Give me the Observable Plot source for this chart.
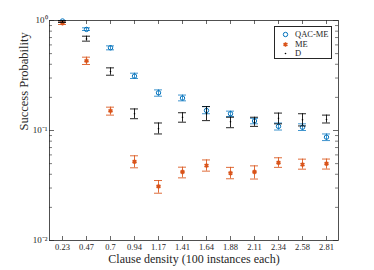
<!DOCTYPE html>
<html><head><meta charset="utf-8">
<script src="https://cdn.jsdelivr.net/npm/d3@7"></script>
<script src="https://cdn.jsdelivr.net/npm/@observablehq/plot@0.6"></script>
<style>
body{margin:0;background:#fff;}
#wrap{position:relative;width:374px;height:270px;font-family:"Liberation Serif",serif;color:#262626;}
#legend{position:absolute;left:274px;top:26px;width:58px;height:33px;border:1px solid #262626;background:#fff;font-size:8.5px;box-sizing:border-box;}
#legend .row{position:absolute;left:0;height:10px;line-height:10px;}
#legend svg{position:absolute;left:5px;top:0;}
#legend span{position:absolute;left:20px;white-space:nowrap;}
</style></head>
<body><div id="wrap"></div>
<script>
const density = ["0.23","0.47","0.7","0.94","1.17","1.41","1.64","1.88","2.11","2.34","2.58","2.81"];
const qacme   = [0.99,0.83,0.565,0.312,0.22,0.197,0.152,0.142,0.122,0.109,0.107,0.087];
const qacmeLo = [0.97,0.811,0.541,0.297,0.205,0.186,0.142,0.134,0.115,0.101,0.100,0.081];
const qacmeHi = [1.0,0.858,0.588,0.332,0.234,0.210,0.165,0.150,0.129,0.117,0.115,0.093];
const me      = [0.945,0.43,0.151,0.052,0.031,0.042,0.048,0.041,0.042,0.051,0.049,0.050];
const meLo    = [0.92,0.398,0.138,0.0458,0.0269,0.0371,0.0427,0.0364,0.0362,0.0462,0.0445,0.0446];
const meHi    = [0.97,0.464,0.163,0.0589,0.0351,0.0464,0.054,0.0462,0.0477,0.0565,0.0549,0.055];
const dval    = [0.98,0.68,0.344,0.142,0.104,0.132,0.142,0.12,0.119,0.129,0.125,0.126];
const dLo     = [0.96,0.649,0.318,0.128,0.093,0.119,0.123,0.106,0.109,0.115,0.110,0.117];
const dHi     = [1.0,0.72,0.371,0.157,0.117,0.145,0.165,0.132,0.132,0.144,0.142,0.138];
const seriesNames = ["QAC-ME","ME","D"];
const colors = ["#0072BD","#D95319","#000000"];
const yTicks = [0.01,0.1,1];
const yTickLabels = ["10\u207B\u00B2","10\u207B\u00B9","10\u2070"];

const mk = (v,lo,hi) => density.map((x,i)=>({x, v:v[i], lo:lo[i], hi:hi[i]}));
const sets = [mk(qacme,qacmeLo,qacmeHi), mk(me,meLo,meHi), mk(dval,dLo,dHi)];
const minor = [];
for (const dec of [0.01,0.1]) for (let k=2;k<=9;k++) minor.push(dec*k);

const W = 374, H = 270, mL = 49, mR = 36, mT = 20, mB = 30;
const fw = W-mL-mR, fh = H-mT-mB;

const errMarks = (data, c, op) => [
  Plot.ruleX(data, {x:"x", y1:"lo", y2:"hi", stroke:c, strokeWidth:1, strokeOpacity:op}),
  Plot.tickY(data, {x:"x", y:"lo", stroke:c, strokeWidth:1, strokeOpacity:op}),
  Plot.tickY(data, {x:"x", y:"hi", stroke:c, strokeWidth:1, strokeOpacity:op})
];

const chart = Plot.plot({
  width: W, height: H, marginLeft: mL, marginRight: mR, marginTop: mT, marginBottom: mB,
  style: {fontFamily: "'Liberation Serif', serif", fontSize: "9px", color: "#262626", background: "#fff"},
  x: {type: "band", domain: density, paddingInner: 0.67, paddingOuter: 0.32, label: null},
  y: {type: "log", domain: [0.01, 1], label: null},
  marks: [
    Plot.frame({stroke: "#262626", strokeWidth: 0.8}),
    Plot.axisX({anchor: "bottom", tickSize: 0, tickPadding: 3, fontSize: 8.5}),
    Plot.axisY(yTicks, {anchor: "left", tickSize: 0, tickPadding: 2, fontSize: 9, tickFormat: (d,i) => yTickLabels[yTicks.indexOf(d)]}),
    Plot.gridX(density, {insetTop: fh-4, stroke: "#262626", strokeOpacity: 1, strokeWidth: 0.7}),
    Plot.gridX(density, {insetBottom: fh-4, stroke: "#262626", strokeOpacity: 1, strokeWidth: 0.7}),
    Plot.gridY(yTicks, {insetRight: fw-5, stroke: "#262626", strokeOpacity: 1, strokeWidth: 0.7}),
    Plot.gridY(yTicks, {insetLeft: fw-5, stroke: "#262626", strokeOpacity: 1, strokeWidth: 0.7}),
    Plot.gridY(minor, {insetRight: fw-3, stroke: "#262626", strokeOpacity: 1, strokeWidth: 0.6}),
    Plot.gridY(minor, {insetLeft: fw-3, stroke: "#262626", strokeOpacity: 1, strokeWidth: 0.6}),
    ...errMarks(sets[0], colors[0], 0.75),
    Plot.dot(sets[0], {x: "x", y: "v", r: 2.2, stroke: colors[0], strokeWidth: 1, fill: "none"}),
    ...errMarks(sets[1], colors[1], 0.85),
    Plot.dot(sets[1], {x: "x", y: "v", r: 2.2, symbol: "asterisk", stroke: colors[1], strokeWidth: 1.6}),
    ...errMarks(sets[2], colors[2], 0.85),
    Plot.dot(sets[2], {x: "x", y: "v", r: 0.8, fill: colors[2], stroke: "none"}),
    Plot.text(["Clause density (100 instances each)"], {frameAnchor: "bottom", dy: 22, fontSize: 12, fill: "#262626"}),
    Plot.text(["Success Probability"], {frameAnchor: "left", dx: -26, rotate: -90, fontSize: 12.5, fill: "#262626"})
  ]
});
const wrap = document.getElementById("wrap");
wrap.appendChild(chart);

const leg = document.createElement("div");
leg.id = "legend";
seriesNames.forEach((name, i) => {
  const row = document.createElement("div");
  row.className = "row";
  row.style.top = (2 + i*9.5) + "px";
  row.style.width = "100%";
  const s = Plot.plot({
    width: 10, height: 10, margin: 0, x: {domain: [0,1], axis: null}, y: {domain: [0,1], axis: null},
    style: {background: "transparent"},
    marks: [
      i === 0 ? Plot.dot([0], {x: () => 0.5, y: () => 0.5, r: 2.2, stroke: colors[0], strokeWidth: 1, fill: "none"})
      : i === 1 ? Plot.dot([0], {x: () => 0.5, y: () => 0.5, r: 2.2, symbol: "asterisk", stroke: colors[1], strokeWidth: 1.6})
      : Plot.dot([0], {x: () => 0.5, y: () => 0.5, r: 0.8, fill: colors[2]})
    ]
  });
  row.appendChild(s);
  const t = document.createElement("span");
  t.textContent = name;
  row.appendChild(t);
  leg.appendChild(row);
});
wrap.appendChild(leg);
</script></body></html>
